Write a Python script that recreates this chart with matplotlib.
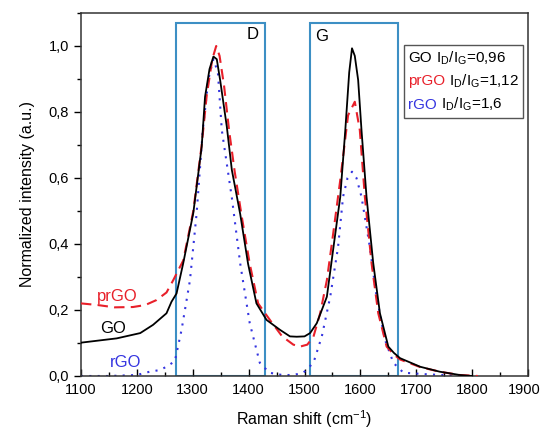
import matplotlib
matplotlib.use("Agg")
import matplotlib.pyplot as plt
import matplotlib.transforms as mtransforms
from matplotlib.patches import Rectangle
from matplotlib.offsetbox import TextArea, HPacker, VPacker, AnchoredOffsetbox
from matplotlib.ticker import MultipleLocator, FuncFormatter

plt.rcParams['font.family'] = ['Liberation Sans', 'DejaVu Sans']
plt.rcParams['mathtext.fontset'] = 'custom'
plt.rcParams['mathtext.rm'] = 'Liberation Sans'

go_x = [1100,1164,1206,1229,1253,1262,1271,1283,1301,1316,1322,1330,1337,1343,1349,1361,1370,1385,1399,1414,1432,1456,1474,1486,1500,1510,1522,1540,1552,1564,1573,1580,1585,1590,1596,1602,1611,1623,1635,1650,1660,1671,1707,1742,1778,1800]
go_y = [0.101,0.114,0.13,0.155,0.19,0.225,0.25,0.342,0.494,0.695,0.846,0.93,0.968,0.96,0.897,0.755,0.624,0.49,0.34,0.22,0.17,0.14,0.12,0.119,0.12,0.13,0.16,0.24,0.392,0.543,0.745,0.92,0.993,0.97,0.897,0.745,0.543,0.342,0.19,0.089,0.07,0.054,0.028,0.013,0.003,0.0]

prgo_x = [1100,1130,1160,1193,1215,1235,1253,1265,1283,1301,1316,1325,1335,1342,1348,1356,1365,1375,1388,1402,1417,1438,1460,1480,1492,1505,1516,1528,1540,1552,1564,1578,1590,1599,1608,1620,1632,1647,1660,1671,1707,1742,1778,1810]
prgo_y = [0.22,0.215,0.208,0.209,0.215,0.23,0.253,0.29,0.35,0.5,0.70,0.85,0.96,1.0,0.97,0.88,0.745,0.62,0.48,0.34,0.22,0.17,0.12,0.095,0.089,0.095,0.119,0.19,0.29,0.44,0.594,0.79,0.831,0.745,0.543,0.342,0.19,0.089,0.065,0.05,0.027,0.013,0.003,0.0]

rgo_x = [1100,1150,1200,1223,1241,1253,1268,1280,1295,1307,1318,1328,1337,1345,1352,1370,1385,1402,1420,1437,1460,1480,1498,1516,1531,1546,1560,1569,1577,1585,1593,1602,1617,1629,1644,1659,1677,1720,1760,1790]
rgo_y = [0.0,0.0,0.003,0.013,0.018,0.028,0.045,0.14,0.29,0.494,0.745,0.9,0.96,0.92,0.745,0.54,0.34,0.16,0.04,0.01,0.003,0.003,0.01,0.04,0.12,0.24,0.39,0.543,0.6,0.619,0.6,0.543,0.39,0.24,0.11,0.04,0.01,0.005,0.002,0.0]

d_band = (1270, 1430)
g_band = (1510, 1668)
band_top = 1.07

ratios = {"GO": "0,96", "prGO": "1,12", "rGO": "1,6"}

fig = plt.figure(figsize=(5.41, 4.30), dpi=100)
ax = fig.add_axes([0.1497, 0.1256, 0.8263, 0.8442])

box_c = '#3d8fc4'
for lo, hi in (d_band, g_band):
    ax.add_patch(Rectangle((lo, 0), hi - lo, band_top, fill=False, edgecolor=box_c, lw=1.5, zorder=1))
ax.text(1408, 1.035, "D", fontsize=12, ha='center', va='center')
ax.text(1530, 1.03, "G", fontsize=12, ha='center', va='center')

ax.plot(go_x, go_y, color='black', lw=1.3, zorder=4)
ax.plot(prgo_x, prgo_y, color='#e8202a', lw=1.5, ls=(0, (5, 3)), zorder=3)
ax.plot(rgo_x, rgo_y, color='#3535e0', lw=1.5, ls=(0, (1, 3)), zorder=2)

ax.text(1128, 0.24, "prGO", color='#e8202a', fontsize=12, va='center')
ax.text(1135, 0.145, "GO", color='black', fontsize=12, va='center')
ax.text(1152, 0.04, "rGO", color='#3535e0', fontsize=12, va='center')

ax.set_xlim(1100, 1900)
ax.set_ylim(0, 1.1)
ax.xaxis.set_major_locator(MultipleLocator(100))
ax.xaxis.set_minor_locator(MultipleLocator(50))
ax.yaxis.set_major_locator(MultipleLocator(0.2))
ax.yaxis.set_minor_locator(MultipleLocator(0.1))
ax.yaxis.set_major_formatter(FuncFormatter(lambda v, p: f"{v:.1f}".replace('.', ',')))
ax.tick_params(axis='x', which='major', direction='in', length=5, width=1, labelsize=10.5, pad=5)
ax.tick_params(axis='x', which='minor', direction='in', length=3, width=1)
ax.tick_params(axis='y', which='major', direction='out', length=5, width=1, labelsize=10.5)
ax.tick_params(axis='y', which='minor', direction='out', length=3, width=1)
for s in ax.spines.values():
    s.set_linewidth(1.1)
    s.set_color('#333333')

ax.set_xlabel("Raman shift (cm$^{-1}$)", fontsize=11.5, labelpad=8)
ax.set_ylabel("Normalized intensity (a.u.)", fontsize=11.5, labelpad=10)

# keep the last x tick label inside the canvas
fig.canvas.draw()
for lbl in ax.get_xticklabels():
    if lbl.get_text() == '1900':
        lbl.set_transform(lbl.get_transform() + mtransforms.ScaledTranslation(-4/100, 0, fig.dpi_scale_trans))

fs = 11
def row(name, color, val):
    parts = [TextArea(name, textprops=dict(color=color, fontsize=fs)),
             TextArea(r" I$_\mathregular{D}$/I$_\mathregular{G}$=" + val, textprops=dict(color='black', fontsize=fs))]
    return HPacker(children=parts, align='baseline', pad=0, sep=0)

vp = VPacker(children=[row("GO", 'black', ratios["GO"]),
                       row("prGO", '#e8202a', ratios["prGO"]),
                       row("rGO", '#3535e0', ratios["rGO"])],
             align='left', pad=0, sep=4)
ab = AnchoredOffsetbox(loc='upper left', child=vp, pad=0.3, borderpad=0,
                       frameon=True, bbox_to_anchor=(1678, 1.003),
                       bbox_transform=ax.transData)
ab.patch.set_edgecolor('#555555')
ab.patch.set_linewidth(1.0)
ab.patch.set_boxstyle('square', pad=0)
ax.add_artist(ab)

fig.savefig("out.png", dpi=100)
